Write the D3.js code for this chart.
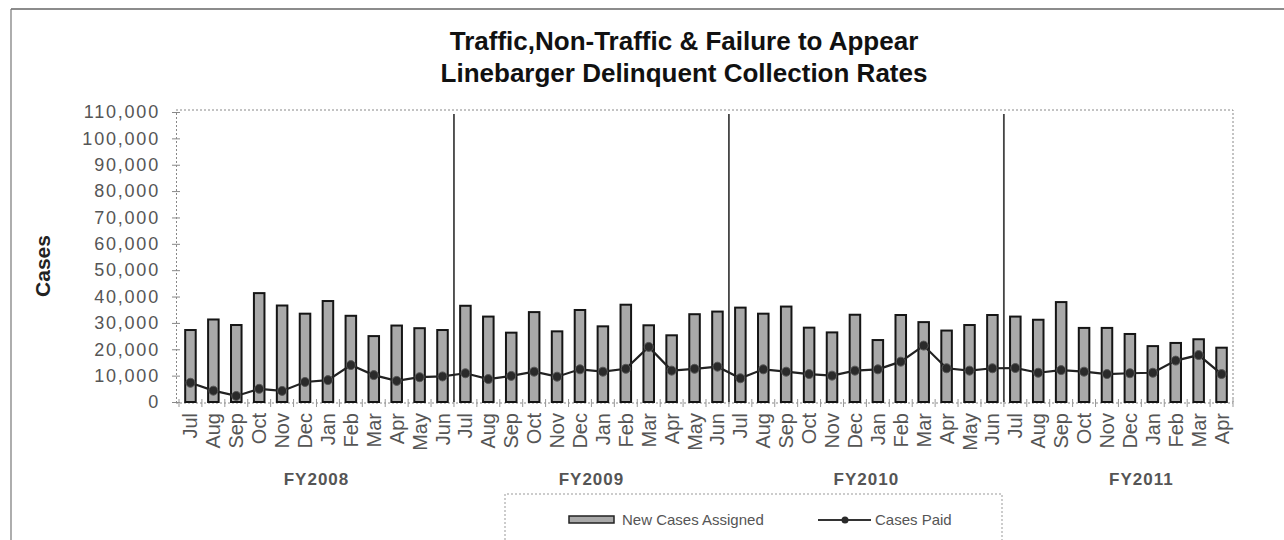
<!DOCTYPE html>
<html>
<head>
<meta charset="utf-8">
<script src="https://cdn.jsdelivr.net/npm/d3@7"></script>
<style>
  html, body { margin: 0; padding: 0; background: #fff; }
  svg { display: block; font-family: "Liberation Sans", Arial, sans-serif; }
</style>
</head>
<body>
<svg id="chart" width="1284" height="540"></svg>
<script>
// ---- data ----
const titleLines = ["Traffic,Non-Traffic & Failure to Appear", "Linebarger Delinquent Collection Rates"];
const months = [
  "Jul","Aug","Sep","Oct","Nov","Dec","Jan","Feb","Mar","Apr","May","Jun",
  "Jul","Aug","Sep","Oct","Nov","Dec","Jan","Feb","Mar","Apr","May","Jun",
  "Jul","Aug","Sep","Oct","Nov","Dec","Jan","Feb","Mar","Apr","May","Jun",
  "Jul","Aug","Sep","Oct","Nov","Dec","Jan","Feb","Mar","Apr"
];
const fiscalYears = ["FY2008", "FY2009", "FY2010", "FY2011"];
const newCasesAssigned = [
  27300, 31300, 29200, 41300, 36600, 33500, 38300, 32700, 25000, 29000, 28000, 27300,
  36500, 32400, 26300, 34100, 26800, 34900, 28700, 36900, 29100, 25300, 33300, 34300,
  35800, 33500, 36200, 28200, 26400, 33100, 23500, 33000, 30300, 27100, 29200, 33000,
  32400, 31200, 37900, 28100, 28100, 25800, 21200, 22400, 23800, 20600
];
const casesPaid = [
  7300, 4300, 2300, 5000, 4200, 7600, 8300, 14000, 10200, 8000, 9400, 9700,
  10900, 8700, 9900, 11500, 9600, 12400, 11500, 12600, 20900, 11900, 12600, 13400,
  9000, 12400, 11500, 10600, 10000, 11900, 12400, 15300, 21400, 12800, 11900, 12800,
  12900, 11100, 12100, 11500, 10600, 10900, 11100, 15700, 17800, 10600
];
const yTicks = [0, 10000, 20000, 30000, 40000, 50000, 60000, 70000, 80000, 90000, 100000, 110000];
const seriesNames = ["New Cases Assigned", "Cases Paid"];
const yLabel = "Cases";

// ---- layout ----
const svg = d3.select("#chart");
const pL = 179, pR = 1233, pT = 112, pB = 402;
const idx = d3.range(months.length);
const x = d3.scaleBand().domain(idx).range([pL, pR]).paddingInner(0.54).paddingOuter(0.27);
const step = x.step();
const xStart = x(0) - x.paddingOuter() * step; // boundary before first category
const bound = i => xStart + i * step;
const y = d3.scaleLinear().domain([0, 110000]).range([pB, pT]);

// outer frame
svg.append("line").attr("x1", 11).attr("x2", 1284).attr("y1", 9).attr("y2", 9)
  .attr("stroke", "#666").attr("stroke-width", 1.5);
svg.append("line").attr("x1", 11).attr("x2", 11).attr("y1", 9).attr("y2", 540)
  .attr("stroke", "#777").attr("stroke-width", 1.2);

// title
svg.append("g").selectAll("text").data(titleLines).join("text")
  .attr("x", 684).attr("y", (d, i) => 50 + i * 32)
  .attr("text-anchor", "middle")
  .attr("font-size", 26).attr("font-weight", "bold").attr("fill", "#111")
  .text(d => d);

// plot frame (dotted top and right)
svg.append("path")
  .attr("d", `M${pL - 3},${pT - 2}H${pR}V${pB}`)
  .attr("fill", "none").attr("stroke", "#888").attr("stroke-width", 1)
  .attr("stroke-dasharray", "2,2");

// y axis
const yAxis = d3.axisLeft(y).tickValues(yTicks).tickFormat(d3.format(",")).tickSize(4).tickPadding(12);
const gy = svg.append("g").attr("transform", `translate(${pL - 3},0)`).call(yAxis);
gy.select(".domain").attr("stroke", "#888").attr("stroke-dasharray", "2,2");
gy.selectAll(".tick line").attr("stroke", "#888").attr("x2", 4).attr("x1", -4);
gy.selectAll(".tick text").attr("font-size", 18).attr("fill", "#555")
  .attr("letter-spacing", 1.8)
  .attr("font-family", "'Liberation Sans', Arial, sans-serif");

// y label
svg.append("text")
  .attr("transform", "translate(50,266) rotate(-90)")
  .attr("text-anchor", "middle")
  .attr("font-size", 21).attr("font-weight", "bold").attr("fill", "#222")
  .text(yLabel);

// x axis (dotted baseline with boundary ticks)
svg.append("line").attr("x1", pL - 3).attr("x2", pR).attr("y1", pB + 1).attr("y2", pB + 1)
  .attr("stroke", "#888").attr("stroke-dasharray", "2,2");
svg.append("g").selectAll("line").data(d3.range(months.length + 1)).join("line")
  .attr("x1", d => bound(d)).attr("x2", d => bound(d))
  .attr("y1", pB - 3).attr("y2", pB + 5)
  .attr("stroke", "#999").attr("stroke-width", 1);

// month labels
svg.append("g").selectAll("text").data(idx).join("text")
  .attr("transform", d => `translate(${x(d) + x.bandwidth() / 2 + 7},413) rotate(-90)`)
  .attr("text-anchor", "end")
  .attr("font-size", 20).attr("fill", "#555")
  .text(d => months[d]);

// fiscal-year labels (centered over 12-month groups)
svg.append("g").selectAll("text").data(fiscalYears).join("text")
  .attr("x", (d, i) => bound(i * 12 + 6))
  .attr("y", 485)
  .attr("text-anchor", "middle")
  .attr("font-size", 17).attr("font-weight", "bold").attr("fill", "#555")
  .attr("letter-spacing", 1)
  .text(d => d);

// fiscal-year dividers
svg.append("g").selectAll("line").data([12, 24, 36]).join("line")
  .attr("x1", d => bound(d)).attr("x2", d => bound(d))
  .attr("y1", pT + 2).attr("y2", pB)
  .attr("stroke", "#444").attr("stroke-width", 1.8);

// bars
svg.append("g").selectAll("rect").data(idx).join("rect")
  .attr("x", d => x(d)).attr("width", x.bandwidth())
  .attr("y", d => y(newCasesAssigned[d]))
  .attr("height", d => y(0) - y(newCasesAssigned[d]))
  .attr("fill", "#a9a9a9").attr("stroke", "#151515").attr("stroke-width", 2);

// line
const cx = d => x(d) + x.bandwidth() / 2;
svg.append("path").datum(idx)
  .attr("d", d3.line().x(cx).y(d => y(casesPaid[d])))
  .attr("fill", "none").attr("stroke", "#222").attr("stroke-width", 2.2);
svg.append("g").selectAll("circle").data(idx).join("circle")
  .attr("cx", cx).attr("cy", d => y(casesPaid[d])).attr("r", 4.5)
  .attr("fill", "#2a2a2a").attr("stroke", "#555").attr("stroke-width", 1);

// legend
const lg = svg.append("g");
lg.append("path").attr("d", "M505,540V494H1002V540")
  .attr("fill", "none").attr("stroke", "#999").attr("stroke-dasharray", "2,2");
lg.append("rect").attr("x", 569).attr("y", 516).attr("width", 45).attr("height", 7)
  .attr("fill", "#a9a9a9").attr("stroke", "#222").attr("stroke-width", 1.5);
lg.append("text").attr("x", 622).attr("y", 525).attr("font-size", 15).attr("fill", "#555")
  .text(seriesNames[0]);
lg.append("line").attr("x1", 818).attr("x2", 871).attr("y1", 520).attr("y2", 520)
  .attr("stroke", "#333").attr("stroke-width", 1.8);
lg.append("circle").attr("cx", 845).attr("cy", 520).attr("r", 3.5).attr("fill", "#2a2a2a");
lg.append("text").attr("x", 875).attr("y", 525).attr("font-size", 15).attr("fill", "#555")
  .text(seriesNames[1]);
</script>
</body>
</html>
